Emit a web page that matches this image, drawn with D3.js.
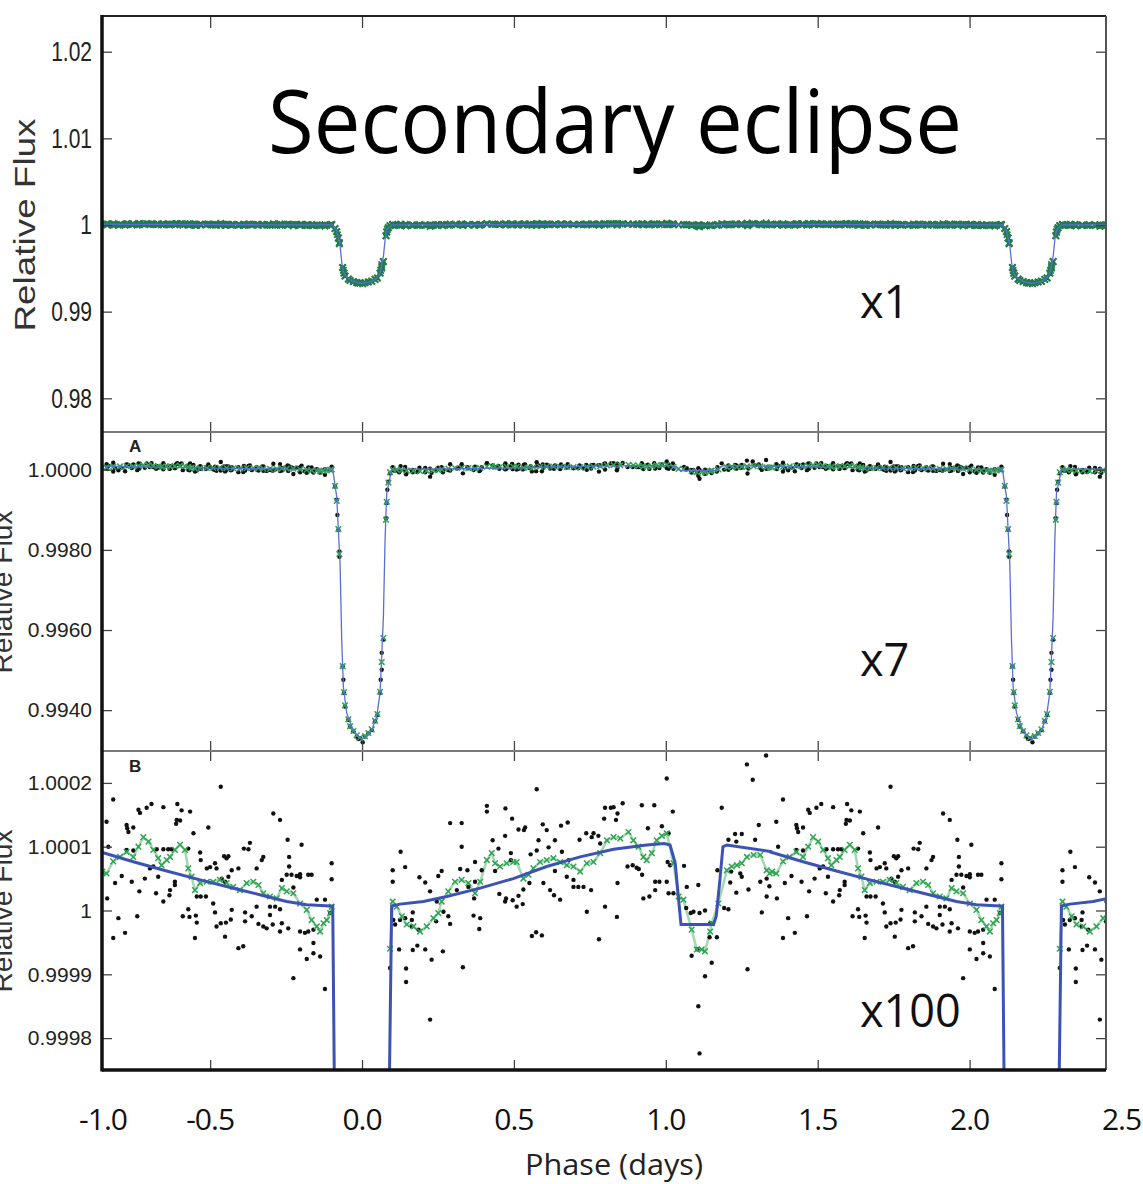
<!DOCTYPE html>
<html>
<head>
<meta charset="utf-8">
<script src="https://cdn.jsdelivr.net/npm/d3@7"></script>
<style>
  body { margin: 0; background: #fff; }
  svg { display: block; }
</style>
</head>
<body>
<div id="chart"></div>
<script>
// orbital period used to fold the light curve (days)
const period = 2.2047;

// x axis
const xDomain = [-0.856, 2.449];
const xTicks = [-0.5, 0, 0.5, 1, 1.5, 2];
const xLabels = [-1.0, -0.5, 0.0, 0.5, 1.0, 1.5, 2.0, 2.5];

// y axes of the three panels (relative flux)
const topDomain = [0.97611, 1.02412];
const topTicks = [0.98, 0.99, 1, 1.01, 1.02];
const midDomain = [0.99298, 1.000943];
const midTicks = [0.994, 0.996, 0.998, 1.0];
const botDomain = [0.99975, 1.00025];
const botTicks = [0.9998, 0.9999, 1, 1.0001, 1.0002];

// model over one orbit: [phase (days), flux - 1 in ppm]
const model = [
  [-0.863, 92], [-0.753, 76.5], [-0.643, 62], [-0.533, 48], [-0.424, 35], [-0.314, 22],
  [-0.248, 14], [-0.182, 9], [-0.105, 7], [-0.0965, 7], [-0.0834, -670], [-0.0724, -2330],
  [-0.0669, -4240], [-0.0615, -5410], [-0.0505, -6070], [-0.034, -6420], [-0.0175, -6620],
  [-0.0011, -6720], [0.0154, -6660], [0.0318, -6500], [0.0483, -6160], [0.0593, -5570],
  [0.0648, -4660], [0.0703, -3660], [0.0758, -1750], [0.0812, -590], [0.0975, 7],
  [0.125, 10], [0.202, 14], [0.279, 22], [0.389, 35], [0.498, 50], [0.608, 69], [0.718, 84],
  [0.828, 96], [0.937, 102.6], [0.995, 105], [1.014, 102.6], [1.031, 74], [1.042, 17],
  [1.050, -22], [1.157, -22], [1.166, -9], [1.177, 43], [1.188, 100], [1.201, 102.6], [1.35, 92]
];

// binned photometry (black dots): [phase, ppm]
const binned = [
  [-0.819,174],[-0.841,139],[-0.835,100],[-0.839,19],[-0.819,-43],[-0.802,-12],[-0.780,-35],[-0.813,43],
  [-0.791,54],[-0.775,134],[-0.773,129],[-0.769,123],[-0.753,130],[-0.736,158],[-0.731,153],[-0.709,161],
  [-0.693,167],[-0.654,162],[-0.608,167],[-0.594,157],[-0.566,155],[-0.610,142],[-0.599,141],[-0.612,136],
  [-0.555,121],[-0.506,130],[-0.465,194],[-0.775,95],[-0.753,94],[-0.758,45],[-0.733,30],[-0.740,-9],
  [-0.715,50],[-0.698,66],[-0.687,69],[-0.676,96],[-0.654,96],[-0.638,96],[-0.627,96],[-0.671,53],
  [-0.654,14],[-0.678,27],[-0.632,32],[-0.634,24],[-0.616,45],[-0.616,40],[-0.590,-9],[-0.572,2],
  [-0.568,-10],[-0.547,-8],[-0.544,-19],[-0.550,-43],[-0.572,97],[-0.533,91],[-0.531,79],[-0.511,66],
  [-0.500,68],[-0.484,74],[-0.479,66],[-0.514,22],[-0.531,22],[-0.544,22],[-0.490,11],[-0.484,-3],
  [-0.479,-25],[-0.465,-20],[-0.448,-19],[-0.451,-41],[-0.429,1],[-0.432,-14],[-0.407,-59],[-0.391,-56],
  [-0.385,-17],[-0.363,-9],[-0.347,6],[-0.341,-21],[-0.325,-25],[-0.314,-28],[-0.303,-7],[-0.294,-22],
  [-0.270,-33],[-0.264,-20],[-0.243,-28],[-0.454,85],[-0.440,85],[-0.446,82],[-0.429,63],[-0.440,53],
  [-0.462,50],[-0.451,45],[-0.407,66],[-0.389,97],[-0.374,96],[-0.369,106],[-0.347,66],[-0.330,79],
  [-0.325,84],[-0.292,152],[-0.270,142],[-0.245,111],[-0.240,84],[-0.240,69],[-0.199,103],[-0.385,-3],
  [-0.264,48],[-0.248,56],[-0.232,56],[-0.226,36],[-0.215,54],[-0.204,57],[-0.204,52],[-0.177,56],
  [-0.166,56],[-0.204,-33],[-0.188,-35],[-0.177,-33],[-0.160,-30],[-0.160,-51],[-0.160,-67],[-0.182,-76],
  [-0.204,-61],[-0.138,-72],[-0.226,-106],[-0.122,-123],[-0.149,17],[-0.122,17],[-0.105,-4],[-0.100,74],
  [-0.100,49],[-0.286,6],[-0.270,2],[-0.303,6],
  // transit
  [-0.0889,-420],[-0.0834,-750],[-0.0812,-1130],[-0.078,-1500],[-0.0746,-2040],[-0.0746,-2170],
  [-0.0637,-4910],[-0.0615,-5240],[-0.0593,-5570],[-0.056,-5910],[-0.045,-6240],[-0.0395,-6410],
  [-0.0285,-6530],[-0.0175,-6660],[-0.012,-6720],[-0.0066,-6700],[0.0022,-6800],[0.0099,-6660],
  [0.0209,-6580],[0.0318,-6500],[0.0428,-6280],[0.0505,-6120],[0.0593,-5570],[0.0615,-5240],
  [0.0648,-4990],[0.0648,-4570],[0.0703,-4240],[0.079,-1210],[0.0812,-830],[0.0834,-500],
  [0.0867,-300],[0.0922,-90],
  // after transit
  [0.101,63],[0.101,45],[0.127,92],[0.142,68],[0.103,-15],[0.109,-22],[0.125,-15],[0.142,-12],
  [0.164,-15],[0.167,-3],[0.164,-25],[0.186,-30],[0.167,-62],[0.182,-55],[0.208,-61],[0.122,-61],
  [0.145,-91],[0.145,-112],[0.229,-77],[0.224,-171],[0.189,52],[0.208,44],[0.224,30],[0.251,54],
  [0.262,62],[0.268,-2],[0.246,14],[0.244,-17],[0.284,-9],[0.290,-21],[0.266,-64],[0.332,-89],
  [0.290,137],[0.328,137],[0.328,100],[0.323,65],[0.347,63],[0.312,32],[0.350,37],[0.372,76],
  [0.372,45],[0.369,19],[0.367,-8],[0.389,-12],[0.386,-29],[0.394,63],[0.411,155],[0.411,164],
  [0.430,110],[0.449,97],[0.438,62],[0.452,26],[0.474,19],[0.471,14],[0.496,16],[0.509,6],
  [0.515,23],[0.529,10],[0.472,160],[0.471,117],[0.494,144],[0.490,90],[0.490,79],[0.515,127],
  [0.533,126],[0.537,130],[0.531,33],[0.551,43],[0.555,88],[0.575,94],[0.575,190],[0.581,110],
  [0.595,135],[0.608,126],[0.614,99],[0.597,43],[0.619,32],[0.632,24],[0.652,17],[0.635,110],
  [0.635,62],[0.658,92],[0.655,133],[0.677,138],[0.674,53],[0.680,79],[0.696,48],[0.696,37],
  [0.712,37],[0.729,37],[0.754,32],[0.716,111],[0.738,121],[0.756,115],[0.778,117],[0.762,121],
  [0.784,105],[0.797,144],[0.800,161],[0.819,161],[0.828,162],[0.841,152],[0.836,142],[0.858,168],
  [0.874,69],[0.891,71],[0.904,67],[0.911,65],[0.922,56],[0.841,43],[0.559,-40],[0.573,-34],
  [0.592,-39],[0.740,-2],[0.800,6],[0.780,-45],[0.839,-10],[0.921,165],[0.941,129],[0.962,165],
  [0.987,132],[1.003,207],[1.009,121],[1.006,76],[1.014,71],[1.003,45],[0.979,45],[0.965,45],
  [0.965,32],[0.946,22],[0.926,19],[1.009,27],
  // secondary eclipse and after
  [1.023,155],[1.025,27],[1.060,70],[1.069,37],[1.067,4],[1.082,-4],[1.091,-2],[1.107,40],
  [1.111,-4],[1.129,0],[1.085,-71],[1.104,-61],[1.129,-103],[1.151,-82],[1.107,-150],[1.111,-224],
  [1.146,-20],[1.144,-42],[1.168,-42],[1.170,63],[1.184,161],[1.192,4],[1.206,2],[1.212,44],
  [1.215,61],[1.206,111],[1.228,120],[1.250,120],[1.232,108],[1.245,58],[1.250,53],[1.232,28],
  [1.272,33],[1.269,-92],[1.267,229],[1.286,205],[1.294,111],[1.306,134],[1.316,-3],[1.311,45],
  [1.330,243],[1.332,50],[1.332,22],[1.341,38]
];

// running mean (green crosses): [phase, ppm]
const smoothed = [
  [-0.863,58],[-0.841,58],[-0.819,77],[-0.797,84],[-0.775,92],[-0.753,84],[-0.736,100],[-0.720,115],
  [-0.703,108],[-0.687,95],[-0.671,82],[-0.660,71],[-0.643,79],[-0.632,84],[-0.616,95],[-0.599,103],
  [-0.583,95],[-0.572,66],[-0.561,53],[-0.550,32],[-0.533,43],[-0.511,45],[-0.490,45],[-0.468,48],
  [-0.446,43],[-0.424,37],[-0.402,32],[-0.380,43],[-0.358,45],[-0.341,40],[-0.325,27],[-0.303,22],
  [-0.281,19],[-0.264,35],[-0.248,30],[-0.226,27],[-0.204,11],[-0.182,1],[-0.166,-15],[-0.149,-25],
  [-0.138,-33],[-0.127,-20],[-0.116,-15],[-0.105,-4],[-0.100,6],
  [-0.0889,-400],[-0.0834,-780],[-0.078,-1480],[-0.0746,-2100],[-0.0637,-4900],[-0.0593,-5550],
  [-0.056,-5880],[-0.045,-6230],[-0.0395,-6400],[-0.0285,-6520],[-0.0175,-6630],[-0.0066,-6690],
  [0.0099,-6650],[0.0209,-6570],[0.0318,-6480],[0.0428,-6270],[0.0505,-6100],[0.0593,-5540],
  [0.0648,-4800],[0.0703,-4200],[0.079,-1250],[0.0812,-800],[0.0867,-320],[0.0922,-60],
  [0.101,14],[0.114,6],[0.131,-9],[0.147,-22],[0.169,-25],[0.191,-33],[0.213,-25],[0.235,-12],
  [0.251,-4],[0.262,14],[0.284,30],[0.306,45],[0.328,48],[0.350,43],[0.372,27],[0.389,45],
  [0.411,79],[0.427,90],[0.438,74],[0.454,69],[0.476,74],[0.498,76],[0.509,76],[0.531,50],
  [0.548,56],[0.564,66],[0.586,76],[0.608,79],[0.630,82],[0.652,76],[0.674,71],[0.696,69],
  [0.718,61],[0.740,74],[0.762,76],[0.784,90],[0.806,110],[0.828,115],[0.850,113],[0.877,123],
  [0.893,110],[0.910,100],[0.926,84],[0.937,79],[0.954,90],[0.970,110],[0.987,117],[1.003,121],
  [1.025,74],[1.042,22],[1.058,17],[1.085,-30],[1.102,-61],[1.118,-61],[1.129,-64],[1.146,-33],
  [1.151,-20],[1.173,11],[1.201,63],[1.217,69],[1.234,71],[1.250,74],[1.267,84],[1.289,87],
  [1.311,87],[1.332,63],[1.350,61]
];

const W = 1143, H = 1184;
const svg = d3.select("#chart").append("svg").attr("width", W).attr("height", H);

const x = d3.scaleLinear().domain(xDomain).range([102, 1106]);
// plain hyphen for negative numbers, as in the original figure
const fmt1 = d => d3.format(".1f")(d).replace("\u2212", "-");

const panels = [
  { id: "top", y0: 16, y1: 432, domain: topDomain, ticks: topTicks,
    fmt: d => d === 1 ? "1" : d3.format(".2f")(d) },
  { id: "mid", y0: 432, y1: 751, domain: midDomain, ticks: midTicks,
    fmt: d3.format(".4f") },
  { id: "bot", y0: 751, y1: 1070, domain: botDomain, ticks: botTicks,
    fmt: d => d === 1 ? "1" : d3.format(".4f")(d) }
];

// repeat one orbit of data across the plotted phase range
function unfold(pts, k) {
  return pts.map(([p, v]) => ({ phase: p + k * period, flux: 1 + v * 1e-6 }));
}
function unfoldAll(pts) {
  return [-1, 0, 1].flatMap(k => unfold(pts, k))
    .filter(d => d.phase >= xDomain[0] - 0.01 && d.phase <= xDomain[1] + 0.01);
}

const dots = unfoldAll(binned);
const crosses = unfoldAll(smoothed);

const defs = svg.append("defs");

panels.forEach(pn => {
  const y = d3.scaleLinear().domain(pn.domain).range([pn.y1, pn.y0]);

  defs.append("clipPath").attr("id", "clip-" + pn.id)
    .append("rect").attr("x", 102).attr("y", pn.y0)
    .attr("width", 1004).attr("height", pn.y1 - pn.y0);

  const g = svg.append("g").attr("clip-path", `url(#clip-${pn.id})`);

  const big = pn.id === "bot";

  // green running mean line (only on the zoomed panel)
  if (big) {
    const gline = d3.line().defined(d => d.flux > 0.99985)
      .x(d => x(d.phase)).y(d => y(d.flux));
    [-1, 0, 1].forEach(k => {
      g.append("path")
        .datum(unfold(smoothed, k))
        .attr("fill", "none")
        .attr("stroke", "#34a853")
        .attr("stroke-opacity", 0.45)
        .attr("stroke-width", 2.5)
        .attr("d", gline);
    });
  }

  // black binned points
  g.append("g").selectAll("circle")
    .data(dots)
    .join("circle")
    .attr("cx", d => x(d.phase))
    .attr("cy", d => y(d.flux))
    .attr("r", pn.id === "top" ? 2 : 2.2)
    .attr("fill", "#111");

  // green crosses
  const s = pn.id === "top" ? 3.2 : 2.8;
  const crossData = pn.id === "top" ? crosses.concat(dots) : crosses;
  g.append("g").selectAll("path")
    .data(crossData)
    .join("path")
    .attr("transform", d => `translate(${x(d.phase)},${y(d.flux)})`)
    .attr("d", `M${-s},${-s}L${s},${s}M${-s},${s}L${s},${-s}`)
    .attr("stroke", pn.id === "top" ? "#1f7d4a" : "#2fa552")
    .attr("stroke-width", pn.id === "top" ? 1.8 : 1.5)
    .attr("fill", "none");

  // model
  const line = d3.line().x(d => x(d.phase)).y(d => y(d.flux));
  [-1, 0, 1].forEach(k => {
    g.append("path")
      .datum(unfold(model, k))
      .attr("fill", "none")
      .attr("stroke", big ? "#3d52b5" : "#5a6fd2")
      .attr("stroke-width", big ? 3 : 1.3)
      .attr("d", line);
  });

  // ticks: left with labels, others inward only
  const left = svg.append("g").attr("transform", "translate(102,0)")
    .call(d3.axisLeft(y).tickValues(pn.ticks).tickFormat(pn.fmt)
      .tickSizeInner(-10).tickSizeOuter(0).tickPadding(10));
  left.select(".domain").remove();
  left.selectAll("line").attr("stroke", "#444").attr("stroke-width", 1.3);
  left.selectAll("text")
    .attr("font-family", "'Liberation Sans', Arial, sans-serif")
    .attr("font-size", 21)
    .attr("fill", "#222");
  if (pn.id === "top") left.selectAll("text").attr("transform", "scale(1,1.33)");

  const rightAx = svg.append("g").attr("transform", "translate(1106,0)")
    .call(d3.axisRight(y).tickValues(pn.ticks).tickFormat("")
      .tickSizeInner(-10).tickSizeOuter(0));
  rightAx.select(".domain").remove();
  rightAx.selectAll("line").attr("stroke", "#444").attr("stroke-width", 1.3);

  const topAx = svg.append("g").attr("transform", `translate(0,${pn.y0})`)
    .call(d3.axisTop(x).tickValues(xTicks).tickFormat("")
      .tickSizeInner(pn.id === "top" ? -12 : -10).tickSizeOuter(0));
  topAx.select(".domain").remove();
  topAx.selectAll("line").attr("stroke", "#444").attr("stroke-width", 1.3);

  const botAx = svg.append("g").attr("transform", `translate(0,${pn.y1})`)
    .call(d3.axisBottom(x).tickValues(xTicks).tickFormat("")
      .tickSizeInner(-10).tickSizeOuter(0));
  botAx.select(".domain").remove();
  botAx.selectAll("line").attr("stroke", "#444").attr("stroke-width", 1.3);
});

// frame
const frame = svg.append("g");
frame.append("line").attr("x1", 102).attr("x2", 1106).attr("y1", 16).attr("y2", 16)
  .attr("stroke", "#222").attr("stroke-width", 2);
[432, 751].forEach(yy => {
  frame.append("line").attr("x1", 102).attr("x2", 1106).attr("y1", yy).attr("y2", yy)
    .attr("stroke", "#7a7a7a").attr("stroke-width", 2);
});
frame.append("line").attr("x1", 1106).attr("x2", 1106).attr("y1", 16).attr("y2", 1070)
  .attr("stroke", "#555").attr("stroke-width", 2);
frame.append("line").attr("x1", 102).attr("x2", 1106).attr("y1", 1070).attr("y2", 1070)
  .attr("stroke", "#111").attr("stroke-width", 3.5);
frame.append("line").attr("x1", 102).attr("x2", 102).attr("y1", 15).attr("y2", 1071.5)
  .attr("stroke", "#111").attr("stroke-width", 3.5);

// panel letters
[["A", 452], ["B", 772]].forEach(([t, yy]) => {
  svg.append("text").attr("x", 129).attr("y", yy).text(t)
    .attr("font-family", "'Liberation Sans', Arial, sans-serif").attr("font-weight", "bold")
    .attr("font-size", 17).attr("fill", "#222");
});

// y labels (the lower two are cut by the page edge in the original)
const ylab = [
  { x: 35, y: 225, size: 30, len: 213 },
  { x: 12, y: 592, size: 27, len: 163 },
  { x: 12, y: 911, size: 27, len: 163 }
];
ylab.forEach(l => {
  svg.append("text")
    .attr("transform", `translate(${l.x},${l.y}) rotate(-90)`)
    .attr("text-anchor", "middle")
    .attr("font-family", "'Liberation Sans', Arial, sans-serif")
    .attr("font-size", l.size)
    .attr("textLength", l.len)
    .attr("lengthAdjust", "spacingAndGlyphs")
    .attr("fill", "#333")
    .text("Relative Flux");
});

// x tick labels (the leftmost one sits at the frame edge)
svg.append("g").selectAll("text")
  .data(xLabels)
  .join("text")
  .attr("x", d => Math.max(x(d), 103))
  .attr("y", 1130)
  .attr("text-anchor", "middle")
  .attr("font-family", "'Open Sans', sans-serif")
  .attr("font-size", 30)
  .attr("letter-spacing", -1)
  .attr("fill", "#111")
  .text(fmt1);

svg.append("text")
  .attr("x", 614).attr("y", 1175)
  .attr("text-anchor", "middle")
  .attr("font-family", "'Open Sans', sans-serif")
  .attr("font-size", 29)
  .attr("textLength", 178)
  .attr("lengthAdjust", "spacingAndGlyphs")
  .attr("fill", "#222")
  .text("Phase (days)");

// annotations
svg.append("text")
  .attr("x", 615).attr("y", 153)
  .attr("text-anchor", "middle")
  .attr("font-family", "'Open Sans', sans-serif")
  .attr("font-size", 88)
  .attr("textLength", 694)
  .attr("lengthAdjust", "spacingAndGlyphs")
  .attr("fill", "#000")
  .text("Secondary eclipse");

const zooms = [
  { t: "x1", y: 318 },
  { t: "x7", y: 676 },
  { t: "x100", y: 1027 }
];
svg.append("g").selectAll("text")
  .data(zooms)
  .join("text")
  .attr("x", 860)
  .attr("y", d => d.y)
  .attr("font-family", "'Open Sans', sans-serif")
  .attr("font-size", 45)
  .attr("fill", "#111")
  .text(d => d.t);
</script>
</body>
</html>
